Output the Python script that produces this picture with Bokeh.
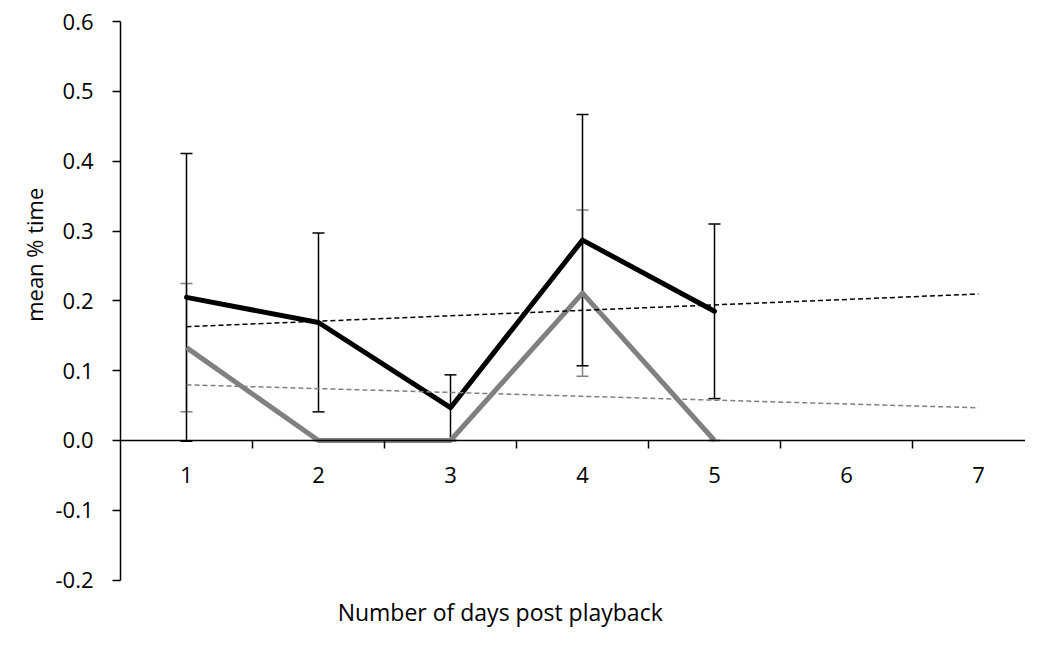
import numpy as np
from bokeh.plotting import figure
from bokeh.models import (Range1d, LinearAxis, FixedTicker, PrintfTickFormatter,
                          ColumnDataSource, Whisker, TeeHead, Label)
from bokeh.embed import file_html
from bokeh.resources import INLINE

# ---- data ----
days = [1, 2, 3, 4, 5]
axis_days = [1, 2, 3, 4, 5, 6, 7]
black_mean = [0.205, 0.169, 0.047, 0.287, 0.185]
black_err = [0.206, 0.128, 0.047, 0.180, 0.125]
grey_mean = [0.133, 0.0, 0.0, 0.211, 0.0]
grey_err = [0.092, 0.0, 0.0, 0.119, 0.0]
y_ticks = [-0.2, -0.1, 0.0, 0.1, 0.2, 0.3, 0.4, 0.5, 0.6]
x_title = "Number of days post playback"
y_title = "mean % time"

FONT = "Open Sans"
GREY = "#808080"

p = figure(width=1025, height=630, output_backend="svg", toolbar_location=None,
           x_range=Range1d(-0.4091, 7.3561), y_range=Range1d(-0.2721, 0.6301),
           x_axis_type=None, y_axis_type=None, min_border=0)
p.outline_line_color = None
p.background_fill_color = "white"

# y axis
yaxis = LinearAxis(fixed_location=axis_days[0] - 0.5, bounds=(y_ticks[0], y_ticks[-1]),
                   ticker=FixedTicker(ticks=y_ticks, minor_ticks=[]),
                   formatter=PrintfTickFormatter(format="%.1f"))
yaxis.major_tick_out = 8
yaxis.major_tick_in = 0
yaxis.minor_tick_out = 0
yaxis.minor_tick_in = 0
yaxis.axis_line_width = 1.5
yaxis.major_tick_line_width = 1.5
yaxis.axis_line_color = "black"
yaxis.major_tick_line_color = "black"
yaxis.major_label_text_font = FONT
yaxis.major_label_text_font_size = "22px"
yaxis.major_label_text_color = "black"
yaxis.major_label_standoff = 19
p.add_layout(yaxis, "left")

# x axis crossing at 0
xaxis = LinearAxis(fixed_location=0, bounds=(axis_days[0] - 0.5, axis_days[-1] + 0.5),
                   ticker=FixedTicker(ticks=axis_days, minor_ticks=[d + 0.5 for d in axis_days]))
xaxis.major_tick_out = 0
xaxis.major_tick_in = 0
xaxis.minor_tick_out = 8
xaxis.minor_tick_in = 0
xaxis.axis_line_width = 1.5
xaxis.minor_tick_line_width = 1.5
xaxis.axis_line_color = "black"
xaxis.minor_tick_line_color = "black"
xaxis.major_label_text_font = FONT
xaxis.major_label_text_font_size = "22px"
xaxis.major_label_text_color = "black"
xaxis.major_label_standoff = 19
p.add_layout(xaxis, "below")

# error bars
def whisker(mean, err, color):
    src = ColumnDataSource(dict(
        x=days,
        upper=[m + e for m, e in zip(mean, err)],
        lower=[m - e for m, e in zip(mean, err)],
    ))
    w = Whisker(source=src, base="x", upper="upper", lower="lower",
                line_color=color, line_width=1.5,
                upper_head=TeeHead(size=12, line_color=color, line_width=1.5),
                lower_head=TeeHead(size=12, line_color=color, line_width=1.5))
    p.add_layout(w)

whisker(grey_mean, grey_err, GREY)
whisker(black_mean, black_err, "black")

# series lines
p.line(days, grey_mean, line_color=GREY, line_width=5, line_join="round")
p.line(days, black_mean, line_color="black", line_width=5, line_join="round", line_cap="round")

# linear trend lines
trend_x = [axis_days[0], axis_days[-1]]
for mean, color in ((black_mean, "black"), (grey_mean, GREY)):
    coef = np.polyfit(days, mean, 1)
    p.line(trend_x, list(np.polyval(coef, trend_x)), line_color=color,
           line_width=1.5, line_dash="5 3")

# axis titles
p.add_layout(Label(x=2.145, y=-0.2463, text=x_title, text_align="left",
                   text_baseline="alphabetic", text_font=FONT, text_font_size="23px",
                   text_color="black"))
p.add_layout(Label(x=-0.159, y=0.266, text=y_title, angle=np.pi / 2,
                   text_align="center", text_baseline="alphabetic", text_font=FONT,
                   text_font_size="22px", text_color="black"))

open("out.html", "w").write(file_html(p, INLINE))
